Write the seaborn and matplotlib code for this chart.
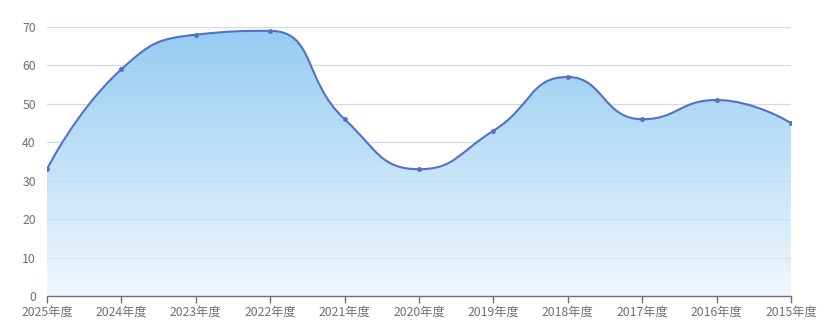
import numpy as np
import matplotlib
matplotlib.use("Agg")
import matplotlib.pyplot as plt
from matplotlib.path import Path
from matplotlib.patches import PathPatch
from matplotlib.colors import LinearSegmentedColormap
import seaborn as sns
import pandas as pd

categories = ["2025年度", "2024年度", "2023年度", "2022年度", "2021年度", "2020年度",
              "2019年度", "2018年度", "2017年度", "2016年度", "2015年度"]
values = [33, 59, 68, 69, 46, 33, 43, 57, 46, 51, 45]
y_ticks = [0, 10, 20, 30, 40, 50, 60, 70]

sns.set_theme(style="white")
plt.rcParams['font.family'] = ['Noto Sans CJK SC', 'DejaVu Sans']

W, H = 831, 336
fig = plt.figure(figsize=(W / 100, H / 100), dpi=100)
left, right, top, bottom = 47, 791, 27, 296
ax = fig.add_axes([left / W, (H - bottom) / H, (right - left) / W, (bottom - top) / H])

df = pd.DataFrame({"x": np.arange(len(categories)), "y": values})
ax.set_xlim(0, len(categories) - 1)
ax.set_ylim(0, 70)

# pixel scale factors for echarts-like smoothing
sx = (right - left) / (len(categories) - 1)
sy = (bottom - top) / 70.0
px = df["x"].to_numpy() * sx
py = df["y"].to_numpy() * sy


def echarts_smooth(xs, ys, smooth=0.5):
    n = len(xs)
    verts = [(xs[0], ys[0])]
    codes = [Path.MOVETO]
    cpx0, cpy0 = xs[0], ys[0]
    for i in range(1, n):
        x, y = xs[i], ys[i]
        prevX, prevY = xs[i - 1], ys[i - 1]
        if i + 1 >= n:
            cpx1, cpy1 = x, y
            nextCpx0, nextCpy0 = x, y
        else:
            nextX, nextY = xs[i + 1], ys[i + 1]
            vx = nextX - prevX
            vy = nextY - prevY
            dx0, dy0 = x - prevX, y - prevY
            dx1, dy1 = nextX - x, nextY - y
            lp = np.hypot(dx0, dy0)
            ln = np.hypot(dx1, dy1)
            r = ln / (ln + lp)
            cpx1 = x - vx * smooth * (1 - r)
            cpy1 = y - vy * smooth * (1 - r)
            nextCpx0 = x + vx * smooth * r
            nextCpy0 = y + vy * smooth * r
            nextCpx0 = min(nextCpx0, max(nextX, x))
            nextCpy0 = min(nextCpy0, max(nextY, y))
            nextCpx0 = max(nextCpx0, min(nextX, x))
            nextCpy0 = max(nextCpy0, min(nextY, y))
            vx = nextCpx0 - x
            vy = nextCpy0 - y
            cpx1 = x - vx * lp / ln
            cpy1 = y - vy * lp / ln
            cpx1 = min(cpx1, max(prevX, x))
            cpy1 = min(cpy1, max(prevY, y))
            cpx1 = max(cpx1, min(prevX, x))
            cpy1 = max(cpy1, min(prevY, y))
            vx = x - cpx1
            vy = y - cpy1
            nextCpx0 = x + vx * ln / lp
            nextCpy0 = y + vy * ln / lp
        verts += [(cpx0, cpy0), (cpx1, cpy1), (x, y)]
        codes += [Path.CURVE4] * 3
        cpx0, cpy0 = nextCpx0, nextCpy0
    return verts, codes


verts, codes = echarts_smooth(px, py)
verts = [(vx / sx, vy / sy) for vx, vy in verts]

# gridlines
for t in y_ticks[1:]:
    ax.axhline(t, color="#e0e6f1", lw=0.9, zorder=0.5)

# area with gradient
area_verts = verts + [(df["x"].iloc[-1], 0), (df["x"].iloc[0], 0), verts[0]]
area_codes = codes + [Path.LINETO, Path.LINETO, Path.CLOSEPOLY]
area_path = Path(area_verts, area_codes)
patch = PathPatch(area_path, facecolor="none", edgecolor="none")
ax.add_patch(patch)
cmap = LinearSegmentedColormap.from_list("g", ["#f0f7fe", "#8bc8f2"])
grad = np.linspace(0, 1, 256).reshape(-1, 1)
im = ax.imshow(grad, cmap=cmap, extent=[0, len(categories) - 1, 0, max(values)],
               origin="lower", aspect="auto", zorder=1, alpha=0.92)
im.set_clip_path(patch)

# grid lines seen through area
for t in y_ticks[1:]:
    ax.axhline(t, color="#c4d6ee", lw=0.8, zorder=1.2, alpha=0.6)

# line
line = PathPatch(Path(verts, codes), facecolor="none", edgecolor="#5470c6", lw=1.5, zorder=3)
ax.add_patch(line)

sns.scatterplot(data=df, x="x", y="y", ax=ax, color="#5470c6", s=9, edgecolor="#5470c6",
                linewidth=0.5, zorder=4, legend=False)

ax.set_xticks(df["x"])
ax.set_xticklabels(categories)
ax.set_yticks(y_ticks)
ax.set_xlabel("")
ax.set_ylabel("")
for s in ["top", "right", "left"]:
    ax.spines[s].set_visible(False)
ax.spines["bottom"].set_color("#6e7079")
ax.spines["bottom"].set_linewidth(1)
ax.spines["bottom"].set_zorder(5)
ax.tick_params(axis="x", colors="#6e7079", length=5, width=1, direction="out", pad=2,
               labelsize=8.8, bottom=True)
ax.tick_params(axis="y", colors="#6e7079", length=0, pad=8, labelsize=8.8, left=False)
for lbl in ax.get_xticklabels() + ax.get_yticklabels():
    lbl.set_color("#6e7079")

fig.savefig("out.png", dpi=100)
